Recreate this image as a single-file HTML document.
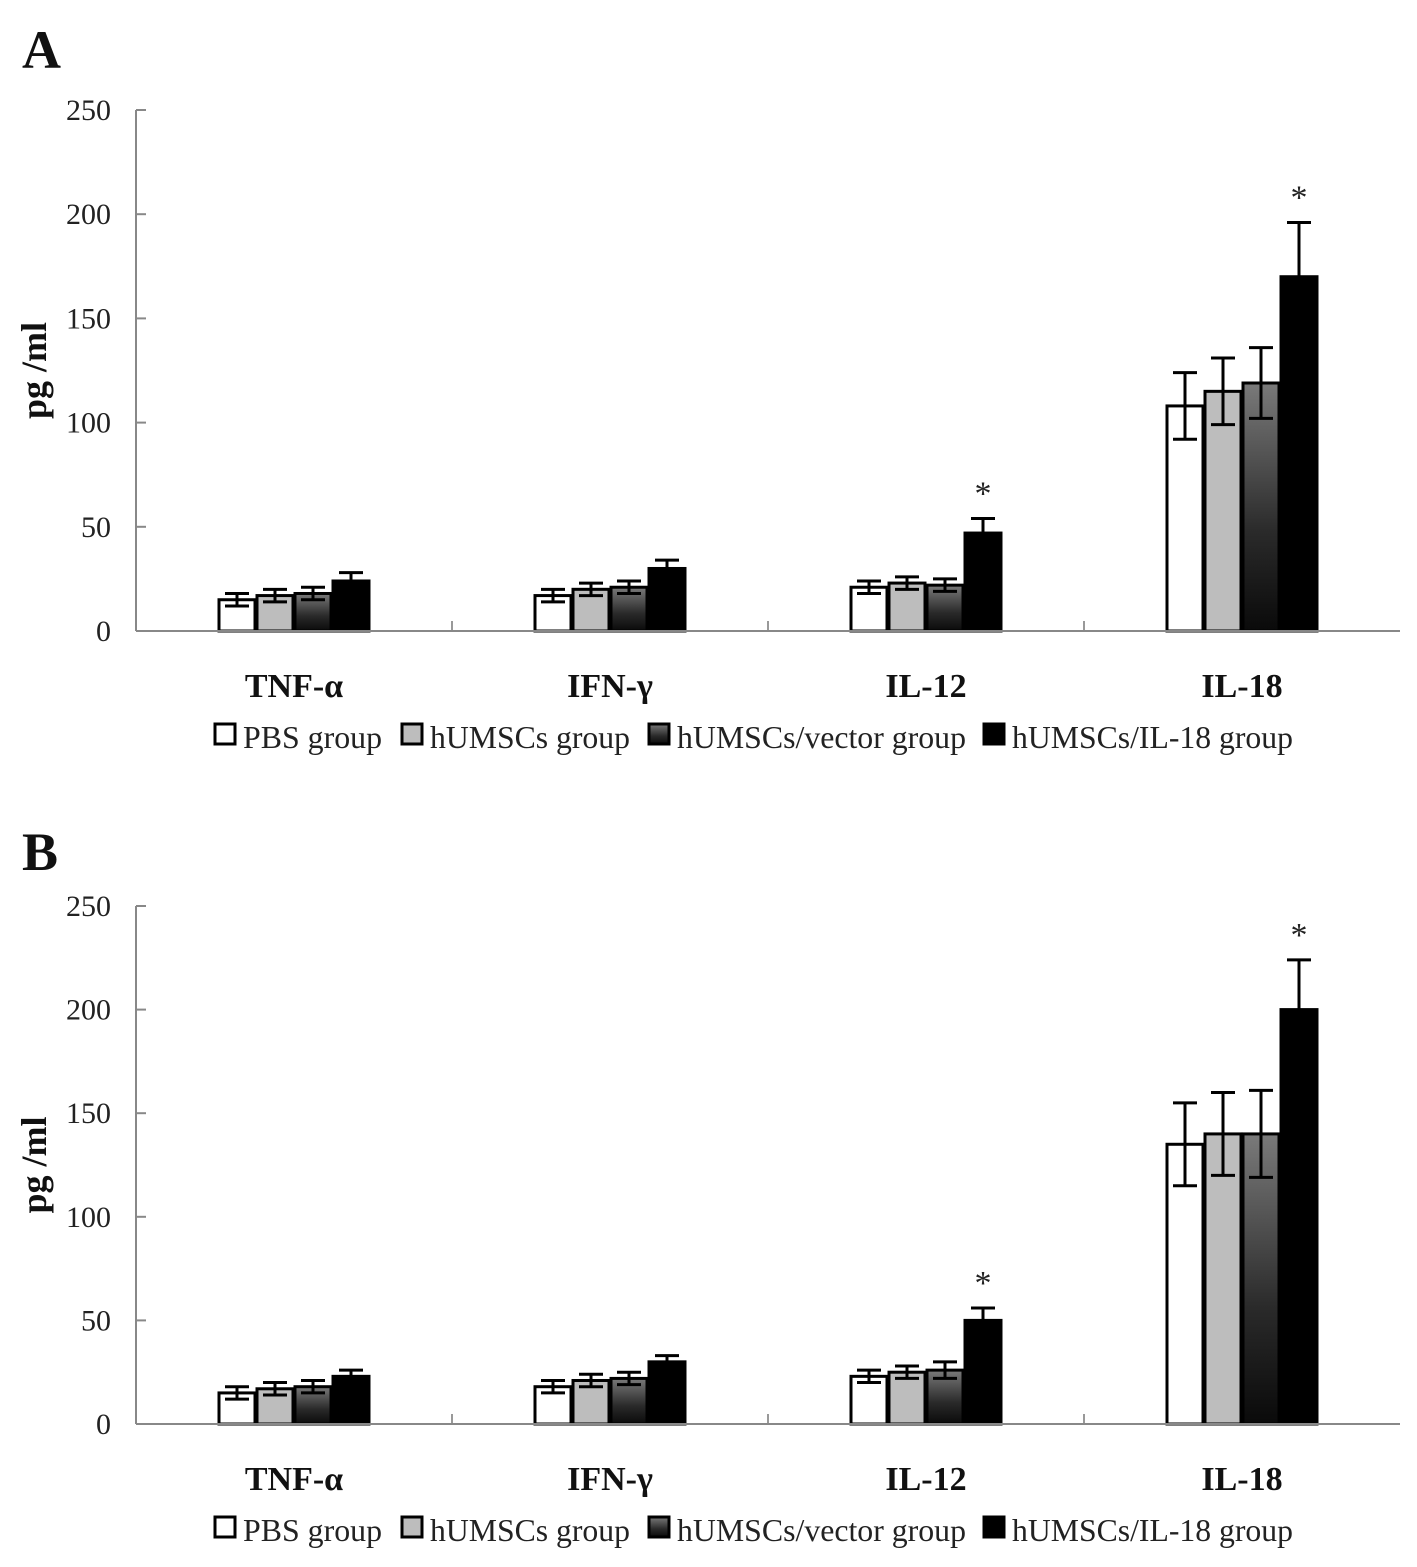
<!DOCTYPE html>
<html><head><meta charset="utf-8">
<style>
html,body{margin:0;padding:0;background:#fff;}
svg{display:block;font-family:"Liberation Serif",serif;}
</style></head>
<body>
<svg id="chart" width="1417" height="1567" viewBox="0 0 1417 1567" xmlns="http://www.w3.org/2000/svg">
<defs>
<linearGradient id="vecGrad" x1="0" y1="0" x2="0" y2="1">
<stop offset="0" stop-color="#7a7a7a"/><stop offset="0.6" stop-color="#2a2a2a"/><stop offset="1" stop-color="#0a0a0a"/>
</linearGradient>
</defs>
</svg>
<script>
const categories = ["TNF-α","IFN-γ","IL-12","IL-18"];
const seriesNames = ["PBS group","hUMSCs group","hUMSCs/vector group","hUMSCs/IL-18 group"];
const yTicks = [0,50,100,150,200,250];
// Panel A
const aPBS = [15,17,21,108];
const aHUM = [17,20,23,115];
const aVEC = [18,21,22,119];
const aIL18 = [24,30,47,170];
const aErrPBS = [3,3,3,16];
const aErrHUM = [3,3,3,16];
const aErrVEC = [3,3,3,17];
const aErrIL18 = [4,4,7,26];
const aStars = [false,false,true,true];
// Panel B
const bPBS = [15,18,23,135];
const bHUM = [17,21,25,140];
const bVEC = [18,22,26,140];
const bIL18 = [23,30,50,200];
const bErrPBS = [3,3,3,20];
const bErrHUM = [3,3,3,20];
const bErrVEC = [3,3,4,21];
const bErrIL18 = [3,3,6,24];
const bStars = [false,false,true,true];

const svg = document.getElementById('chart');
const NS = "http://www.w3.org/2000/svg";
function mk(tag, attrs, parent){
  const e = document.createElementNS(NS, tag);
  for (const k in attrs) e.setAttribute(k, attrs[k]);
  (parent||svg).appendChild(e);
  return e;
}
const fills = ["#ffffff","#bdbdbd","url(#vecGrad)","#000000"];
const legX = [213, 400, 647, 982];
const legLen = [139, 200, 289, 281];

function panel(id, letter, y0, y250, vals, errs, stars, letterY){
  const g = mk('g', {});
  
  
  const xL = 136, xR = 1400;
  const yScale = v => y0 - (y0 - y250) * v / 250;
  const groupW = (xR - xL) / categories.length;
  const barW = 38;
  const lt = mk('text', {x:22, y:letterY, 'font-size':54, 'font-weight':'bold', fill:'#111'}, g);
  lt.textContent = letter;
  
  
  const ax = mk('line', {x1:xL, y1:y250, x2:xL, y2:y0, stroke:'#888', 'stroke-width':2}, g);
  
  
  yTicks.forEach(t => {
    const y = yScale(t);
    mk('line', {x1:xL, y1:y, x2:xL+10, y2:y, stroke:'#888', 'stroke-width':2}, g);
    const tx = mk('text', {x:111, y:y+10, 'font-size':30, 'text-anchor':'end', fill:'#222'}, g);
    tx.textContent = t;
    
    
  });
  const yt = mk('text', {x:0, y:0, 'font-size':36, 'font-weight':'bold', 'text-anchor':'middle', fill:'#111',
    transform:`translate(46,${(y0+y250)/2}) rotate(-90)`}, g);
  yt.textContent = 'pg /ml';
  
  
  categories.forEach((c, ci) => {
    const cx = xL + groupW * (ci + 0.5);
    const startX = cx - 2 * barW;
    for (let s = 0; s < 4; s++){
      const v = vals[s][ci], e = errs[s][ci];
      const x = startX + s * barW;
      const yt2 = yScale(v);
      const r = mk('rect', {x:x+1, y:yt2, width:barW-2, height:y0-yt2, fill:fills[s], stroke:'#000', 'stroke-width':3}, g);
      
      
      const ex = x + barW/2;
      const eh = yScale(v + e), el = yScale(v - e);
      const ep = mk('path', {d:`M${ex},${eh}V${el}M${ex-12},${eh}H${ex+12}M${ex-12},${el}H${ex+12}`, stroke:'#000', 'stroke-width':3, fill:'none'}, g);
      
      
      if (s === 3 && stars[ci]){
        const st = mk('text', {x:ex, y:eh-14, 'font-size':34, 'text-anchor':'middle', fill:'#222'}, g);
        st.textContent = '*';
        
        
      }
    }
    const cl = mk('text', {x:cx, y:y0+66, 'font-size':34, 'font-weight':'bold', 'text-anchor':'middle', fill:'#111'}, g);
    cl.textContent = c;
    
    
    if (ci > 0){
      const sx = xL + groupW * ci;
      mk('line', {x1:sx, y1:y0-10, x2:sx, y2:y0, stroke:'#999', 'stroke-width':2}, g);
    }
  });
  const xa = mk('line', {x1:xL, y1:y0, x2:xR, y2:y0, stroke:'#888', 'stroke-width':2}, g);
  
  
  seriesNames.forEach((n, i) => {
    const ly = y0 + 117;
    const sw = mk('rect', {x:legX[i]+2, y:ly-24, width:20, height:20, fill:fills[i], stroke:'#000', 'stroke-width':3}, g);
    
    
    const lt2 = mk('text', {x:legX[i]+30, y:ly, 'font-size':32, fill:'#222', textLength:legLen[i], lengthAdjust:'spacingAndGlyphs'}, g);
    lt2.textContent = n;
    
    
  });
}
panel('a', 'A', 631, 110, [aPBS,aHUM,aVEC,aIL18], [aErrPBS,aErrHUM,aErrVEC,aErrIL18], aStars, 68);
panel('b', 'B', 1424, 906, [bPBS,bHUM,bVEC,bIL18], [bErrPBS,bErrHUM,bErrVEC,bErrIL18], bStars, 870);
</script>
</body></html>
